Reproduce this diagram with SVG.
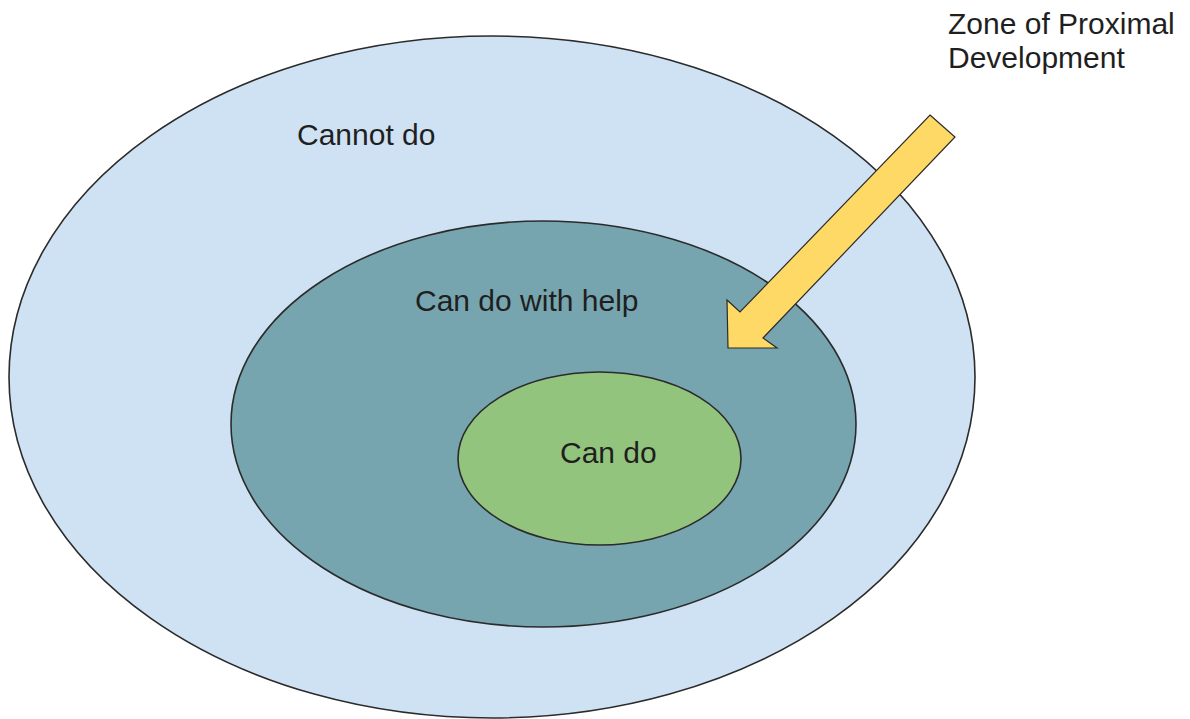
<svg xmlns="http://www.w3.org/2000/svg" width="1190" height="719" viewBox="0 0 1190 719">
  <style>
    .lbl { font-family: "Liberation Sans", Arial, sans-serif; font-size: 30px; fill: #1f1f1f; }
    .ring { stroke: #2b2b2b; stroke-width: 1.6; }
  </style>
  <rect x="0" y="0" width="1190" height="719" fill="#ffffff"/>
  <g id="cannot-do">
    <ellipse class="ring" cx="492" cy="377" rx="483" ry="341" fill="#cfe2f3"/>
    <text class="lbl" x="297" y="145">Cannot do</text>
  </g>
  <g id="can-do-with-help">
    <ellipse class="ring" cx="543.5" cy="424" rx="312.5" ry="203" fill="#76a5af"/>
    <text class="lbl" x="415" y="311">Can do with help</text>
  </g>
  <g id="can-do">
    <ellipse class="ring" cx="599.5" cy="458.5" rx="141.5" ry="86.5" fill="#93c47d"/>
    <text class="lbl" x="560" y="463">Can do</text>
  </g>
  <g id="connectors">
    <polygon points="930,115 955,137 763,338 777,348 728,348 727,300 740,312" fill="#ffd966" stroke="#2b2b2b" stroke-width="1.2" stroke-linejoin="miter"/>
  </g>
  <g id="zpd-label">
    <text class="lbl" x="948" y="34">Zone of Proximal</text>
    <text class="lbl" x="948" y="68">Development</text>
  </g>
</svg>
